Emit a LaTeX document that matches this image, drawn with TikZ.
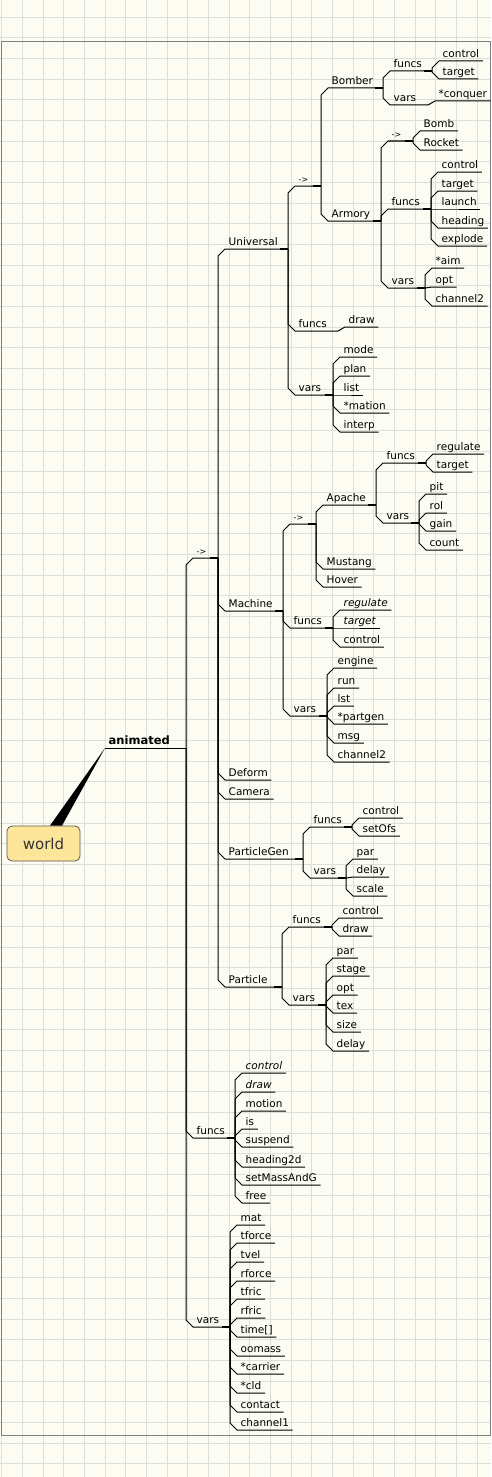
\documentclass[tikz,border=0pt]{standalone}
\usepackage{fontspec}
\setmainfont{DejaVu Sans}
\usetikzlibrary{calc}

\definecolor{paper}{HTML}{FCFCF3}
\definecolor{gridc}{HTML}{D9E2DA}
\definecolor{framec}{HTML}{7F7F7F}
\definecolor{rootfill}{HTML}{FDE59A}
\definecolor{rootdraw}{HTML}{5E5A4E}

\tikzset{
  item/.style={anchor=south west, inner xsep=3.2pt, inner ysep=0.5pt,
    text height=7.5pt, text depth=2.5pt, font=\fontsize{10.5}{12}\selectfont},
  topitem/.style={item, font=\fontsize{11.5}{13}\selectfont\bfseries},
  arritem/.style={item, font=\fontsize{8}{10}\selectfont},
  rootbox/.style={draw=rootdraw, fill=rootfill, line width=0.8pt, rounded corners=5pt,
    minimum width=73pt, minimum height=35pt, text=black!80,
    font=\fontsize{15}{17}\selectfont},
  bev/.style={to path={let \p1=(\tikztostart), \p2=(\tikztotarget) in
    -- (\x1,{\y2+max(-7pt,min(7pt,\y1-\y2))}) -- (\tikztotarget)}},
  stub/.style={line width=1.8pt},
  gridline/.style={gridc, line width=0.8pt}
}

\begin{document}
\begin{tikzpicture}[x=1pt,y=-1pt,line width=1pt]
\useasboundingbox (0,0) rectangle (491,1477);
\fill[paper] (0,0) rectangle (491,1477);
\foreach \i in {0,...,23} \draw[gridline] ({1.7+20.67*\i},0) -- ({1.7+20.67*\i},1477);
\foreach \i in {0,...,72} \draw[gridline] (0,{-3.7+20.67*\i}) -- (491,{-3.7+20.67*\i});
\draw[framec, line width=0.9pt] (1,41) rectangle (490,1435);

% root
\node[rootbox] (world) at (43.5,843.5) {world};
\node[topitem] (anim) at (105,748) {animated};
\coordinate (anim-j) at (186,748);
\fill ([xshift=6.5pt]world.north) -- (anim.south west) -- ([xshift=18.5pt]world.north) -- cycle;
\draw (anim.south west) -- (anim-j);

% animated
\node[arritem] (arr) at (193,558) {->};
\coordinate (arr-j) at (218,558);
\draw[bev] (anim-j) to (arr.south west) -- (arr-j);
\node[item] (afuncs) at (193,1138) {funcs};
\coordinate (afuncs-j) at (235,1138);
\draw[bev] (anim-j) to (afuncs.south west) -- (afuncs-j);
\node[item] (avars) at (193,1327) {vars};
\coordinate (avars-j) at (230,1327);
\draw[bev] (anim-j) to (avars.south west) -- (avars-j);

% ->
\node[item] (uni) at (225,249) {Universal};
\coordinate (uni-j) at (288,249);
\draw[bev] (arr-j) to (uni.south west) -- (uni-j);
\node[item] (mach) at (225,611) {Machine};
\coordinate (mach-j) at (283,611);
\draw[bev] (arr-j) to (mach.south west) -- (mach-j);
\node[item] (deform) at (225,780) {Deform};
\draw[bev] (arr-j) to (deform.south west) -- (deform.south east);
\node[item] (camera) at (225,799) {Camera};
\draw[bev] (arr-j) to (camera.south west) -- (camera.south east);
\node[item] (pgen) at (225,859) {ParticleGen};
\coordinate (pgen-j) at (303,859);
\draw[bev] (arr-j) to (pgen.south west) -- (pgen-j);
\node[item] (part) at (225,987) {Particle};
\coordinate (part-j) at (282,987);
\draw[bev] (arr-j) to (part.south west) -- (part-j);

% Universal
\node[arritem] (uarr) at (295,186) {->};
\coordinate (uarr-j) at (321,186);
\draw[bev] (uni-j) to (uarr.south west) -- (uarr-j);
\node[item] (ufuncs) at (295,331) {funcs};
\coordinate (ufuncs-j) at (338,331);
\draw[bev] (uni-j) to (ufuncs.south west) -- (ufuncs-j);
\node[item] (uvars) at (295,395) {vars};
\coordinate (uvars-j) at (333,395);
\draw[bev] (uni-j) to (uvars.south west) -- (uvars-j);

\node[item] (bomber) at (328,88) {Bomber};
\coordinate (bomber-j) at (383,88);
\draw[bev] (uarr-j) to (bomber.south west) -- (bomber-j);
\node[item] (armory) at (328,221) {Armory};
\coordinate (armory-j) at (381,221);
\draw[bev] (uarr-j) to (armory.south west) -- (armory-j);

\node[item] (bfuncs) at (390,71) {funcs};
\coordinate (bfuncs-j) at (432,71);
\draw[bev] (bomber-j) to (bfuncs.south west) -- (bfuncs-j);
\node[item] (bvars) at (390,105) {vars};
\coordinate (bvars-j) at (428,105);
\draw[bev] (bomber-j) to (bvars.south west) -- (bvars-j);
\node[item] (bf-control) at (439,61) {control};
\draw[bev] (bfuncs-j) to (bf-control.south west) -- (bf-control.south east);
\node[item] (bf-target) at (439,79) {target};
\draw[bev] (bfuncs-j) to (bf-target.south west) -- (bf-target.south east);
\node[item] (bv-conquer) at (435,101) {*conquer};
\draw[bev] (bvars-j) to (bv-conquer.south west) -- (bv-conquer.south east);

\node[arritem] (aarr) at (388,141) {->};
\coordinate (aarr-j) at (413,141);
\draw[bev] (armory-j) to (aarr.south west) -- (aarr-j);
\node[item] (afn) at (388,209) {funcs};
\coordinate (afn-j) at (431,209);
\draw[bev] (armory-j) to (afn.south west) -- (afn-j);
\node[item] (avr) at (388,288) {vars};
\coordinate (avr-j) at (425,288);
\draw[bev] (armory-j) to (avr.south west) -- (avr-j);
\node[item] (bomb) at (420,131) {Bomb};
\draw[bev] (aarr-j) to (bomb.south west) -- (bomb.south east);
\node[item] (rocket) at (420,150) {Rocket};
\draw[bev] (aarr-j) to (rocket.south west) -- (rocket.south east);
\node[item] (afn-control) at (438,172) {control};
\draw[bev] (afn-j) to (afn-control.south west) -- (afn-control.south east);
\node[item] (afn-target) at (438,191) {target};
\draw[bev] (afn-j) to (afn-target.south west) -- (afn-target.south east);
\node[item] (afn-launch) at (438,209) {launch};
\draw[bev] (afn-j) to (afn-launch.south west) -- (afn-launch.south east);
\node[item] (afn-heading) at (438,228) {heading};
\draw[bev] (afn-j) to (afn-heading.south west) -- (afn-heading.south east);
\node[item] (afn-explode) at (438,246) {explode};
\draw[bev] (afn-j) to (afn-explode.south west) -- (afn-explode.south east);
\node[item] (avr-aim) at (432,268) {*aim};
\draw[bev] (avr-j) to (avr-aim.south west) -- (avr-aim.south east);
\node[item] (avr-opt) at (432,287) {opt};
\draw[bev] (avr-j) to (avr-opt.south west) -- (avr-opt.south east);
\node[item] (avr-chan) at (432,306) {channel2};
\draw[bev] (avr-j) to (avr-chan.south west) -- (avr-chan.south east);

\node[item] (uf-draw) at (345,327) {draw};
\draw[bev] (ufuncs-j) to (uf-draw.south west) -- (uf-draw.south east);
\node[item] (uv-mode) at (340,357) {mode};
\draw[bev] (uvars-j) to (uv-mode.south west) -- (uv-mode.south east);
\node[item] (uv-plan) at (340,376) {plan};
\draw[bev] (uvars-j) to (uv-plan.south west) -- (uv-plan.south east);
\node[item] (uv-list) at (340,395) {list};
\draw[bev] (uvars-j) to (uv-list.south west) -- (uv-list.south east);
\node[item] (uv-mation) at (340,413) {*mation};
\draw[bev] (uvars-j) to (uv-mation.south west) -- (uv-mation.south east);
\node[item] (uv-interp) at (340,432) {interp};
\draw[bev] (uvars-j) to (uv-interp.south west) -- (uv-interp.south east);

% Machine
\node[arritem] (marr) at (290,524) {->};
\coordinate (marr-j) at (316,524);
\draw[bev] (mach-j) to (marr.south west) -- (marr-j);
\node[item] (mfuncs) at (290,628) {funcs};
\coordinate (mfuncs-j) at (333,628);
\draw[bev] (mach-j) to (mfuncs.south west) -- (mfuncs-j);
\node[item] (mvars) at (290,716) {vars};
\coordinate (mvars-j) at (327,716);
\draw[bev] (mach-j) to (mvars.south west) -- (mvars-j);

\node[item] (apache) at (323,505) {Apache};
\coordinate (apache-j) at (376,505);
\draw[bev] (marr-j) to (apache.south west) -- (apache-j);
\node[item] (mustang) at (323,569) {Mustang};
\draw[bev] (marr-j) to (mustang.south west) -- (mustang.south east);
\node[item] (hover) at (323,587) {Hover};
\draw[bev] (marr-j) to (hover.south west) -- (hover.south east);

\node[item] (apfuncs) at (383,463) {funcs};
\coordinate (apfuncs-j) at (426,463);
\draw[bev] (apache-j) to (apfuncs.south west) -- (apfuncs-j);
\node[item] (apvars) at (383,523) {vars};
\coordinate (apvars-j) at (419,523);
\draw[bev] (apache-j) to (apvars.south west) -- (apvars-j);
\node[item] (apf-regulate) at (433,454) {regulate};
\draw[bev] (apfuncs-j) to (apf-regulate.south west) -- (apf-regulate.south east);
\node[item] (apf-target) at (433,472) {target};
\draw[bev] (apfuncs-j) to (apf-target.south west) -- (apf-target.south east);
\node[item] (apv-pit) at (426,494) {pit};
\draw[bev] (apvars-j) to (apv-pit.south west) -- (apv-pit.south east);
\node[item] (apv-rol) at (426,513) {rol};
\draw[bev] (apvars-j) to (apv-rol.south west) -- (apv-rol.south east);
\node[item] (apv-gain) at (426,531) {gain};
\draw[bev] (apvars-j) to (apv-gain.south west) -- (apv-gain.south east);
\node[item] (apv-count) at (426,550) {count};
\draw[bev] (apvars-j) to (apv-count.south west) -- (apv-count.south east);

\node[item] (mf-regulate) at (340,610) {\itshape regulate};
\draw[bev] (mfuncs-j) to (mf-regulate.south west) -- (mf-regulate.south east);
\node[item] (mf-target) at (340,628) {\itshape target};
\draw[bev] (mfuncs-j) to (mf-target.south west) -- (mf-target.south east);
\node[item] (mf-control) at (340,647) {control};
\draw[bev] (mfuncs-j) to (mf-control.south west) -- (mf-control.south east);
\node[item] (mv-engine) at (334,668) {engine};
\draw[bev] (mvars-j) to (mv-engine.south west) -- (mv-engine.south east);
\node[item] (mv-run) at (334,688) {run};
\draw[bev] (mvars-j) to (mv-run.south west) -- (mv-run.south east);
\node[item] (mv-lst) at (334,706) {lst};
\draw[bev] (mvars-j) to (mv-lst.south west) -- (mv-lst.south east);
\node[item] (mv-partgen) at (334,724) {*partgen};
\draw[bev] (mvars-j) to (mv-partgen.south west) -- (mv-partgen.south east);
\node[item] (mv-msg) at (334,743) {msg};
\draw[bev] (mvars-j) to (mv-msg.south west) -- (mv-msg.south east);
\node[item] (mv-chan) at (334,762) {channel2};
\draw[bev] (mvars-j) to (mv-chan.south west) -- (mv-chan.south east);

% ParticleGen
\node[item] (pgfuncs) at (310,827) {funcs};
\coordinate (pgfuncs-j) at (352,827);
\draw[bev] (pgen-j) to (pgfuncs.south west) -- (pgfuncs-j);
\node[item] (pgvars) at (310,878) {vars};
\coordinate (pgvars-j) at (346,878);
\draw[bev] (pgen-j) to (pgvars.south west) -- (pgvars-j);
\node[item] (pgf-control) at (359,818) {control};
\draw[bev] (pgfuncs-j) to (pgf-control.south west) -- (pgf-control.south east);
\node[item] (pgf-setofs) at (359,836) {setOfs};
\draw[bev] (pgfuncs-j) to (pgf-setofs.south west) -- (pgf-setofs.south east);
\node[item] (pgv-par) at (353,859) {par};
\draw[bev] (pgvars-j) to (pgv-par.south west) -- (pgv-par.south east);
\node[item] (pgv-delay) at (353,877) {delay};
\draw[bev] (pgvars-j) to (pgv-delay.south west) -- (pgv-delay.south east);
\node[item] (pgv-scale) at (353,896) {scale};
\draw[bev] (pgvars-j) to (pgv-scale.south west) -- (pgv-scale.south east);

% Particle
\node[item] (ptfuncs) at (289,927) {funcs};
\coordinate (ptfuncs-j) at (332,927);
\draw[bev] (part-j) to (ptfuncs.south west) -- (ptfuncs-j);
\node[item] (ptvars) at (289,1005) {vars};
\coordinate (ptvars-j) at (326,1005);
\draw[bev] (part-j) to (ptvars.south west) -- (ptvars-j);
\node[item] (ptf-control) at (339,918) {control};
\draw[bev] (ptfuncs-j) to (ptf-control.south west) -- (ptf-control.south east);
\node[item] (ptf-draw) at (339,936) {draw};
\draw[bev] (ptfuncs-j) to (ptf-draw.south west) -- (ptf-draw.south east);
\node[item] (ptv-par) at (333,958) {par};
\draw[bev] (ptvars-j) to (ptv-par.south west) -- (ptv-par.south east);
\node[item] (ptv-stage) at (333,976) {stage};
\draw[bev] (ptvars-j) to (ptv-stage.south west) -- (ptv-stage.south east);
\node[item] (ptv-opt) at (333,995) {opt};
\draw[bev] (ptvars-j) to (ptv-opt.south west) -- (ptv-opt.south east);
\node[item] (ptv-tex) at (333,1013) {tex};
\draw[bev] (ptvars-j) to (ptv-tex.south west) -- (ptv-tex.south east);
\node[item] (ptv-size) at (333,1032) {size};
\draw[bev] (ptvars-j) to (ptv-size.south west) -- (ptv-size.south east);
\node[item] (ptv-delay) at (333,1051) {delay};
\draw[bev] (ptvars-j) to (ptv-delay.south west) -- (ptv-delay.south east);

% animated funcs
\node[item] (af-control) at (242,1073) {\itshape control};
\draw[bev] (afuncs-j) to (af-control.south west) -- (af-control.south east);
\node[item] (af-draw) at (242,1092) {\itshape draw};
\draw[bev] (afuncs-j) to (af-draw.south west) -- (af-draw.south east);
\node[item] (af-motion) at (242,1111) {motion};
\draw[bev] (afuncs-j) to (af-motion.south west) -- (af-motion.south east);
\node[item] (af-is) at (242,1129) {is};
\draw[bev] (afuncs-j) to (af-is.south west) -- (af-is.south east);
\node[item] (af-suspend) at (242,1147) {suspend};
\draw[bev] (afuncs-j) to (af-suspend.south west) -- (af-suspend.south east);
\node[item] (af-heading) at (242,1167) {heading2d};
\draw[bev] (afuncs-j) to (af-heading.south west) -- (af-heading.south east);
\node[item] (af-setmass) at (242,1185) {setMassAndG};
\draw[bev] (afuncs-j) to (af-setmass.south west) -- (af-setmass.south east);
\node[item] (af-free) at (242,1203) {free};
\draw[bev] (afuncs-j) to (af-free.south west) -- (af-free.south east);

% animated vars
\node[item] (av-mat) at (237,1225) {mat};
\draw[bev] (avars-j) to (av-mat.south west) -- (av-mat.south east);
\node[item] (av-tforce) at (237,1243) {tforce};
\draw[bev] (avars-j) to (av-tforce.south west) -- (av-tforce.south east);
\node[item] (av-tvel) at (237,1262) {tvel};
\draw[bev] (avars-j) to (av-tvel.south west) -- (av-tvel.south east);
\node[item] (av-rforce) at (237,1281) {rforce};
\draw[bev] (avars-j) to (av-rforce.south west) -- (av-rforce.south east);
\node[item] (av-tfric) at (237,1299) {tfric};
\draw[bev] (avars-j) to (av-tfric.south west) -- (av-tfric.south east);
\node[item] (av-rfric) at (237,1318) {rfric};
\draw[bev] (avars-j) to (av-rfric.south west) -- (av-rfric.south east);
\node[item] (av-time) at (237,1337) {time[]};
\draw[bev] (avars-j) to (av-time.south west) -- (av-time.south east);
\node[item] (av-oomass) at (237,1356) {oomass};
\draw[bev] (avars-j) to (av-oomass.south west) -- (av-oomass.south east);
\node[item] (av-carrier) at (237,1374) {*carrier};
\draw[bev] (avars-j) to (av-carrier.south west) -- (av-carrier.south east);
\node[item] (av-cld) at (237,1393) {*cld};
\draw[bev] (avars-j) to (av-cld.south west) -- (av-cld.south east);
\node[item] (av-contact) at (237,1412) {contact};
\draw[bev] (avars-j) to (av-contact.south west) -- (av-contact.south east);
\node[item] (av-chan) at (237,1430) {channel1};
\draw[bev] (avars-j) to (av-chan.south west) -- (av-chan.south east);

% thick ends where a branch meets its children
\foreach \j in {arr-j, afuncs-j, avars-j, uni-j, mach-j, pgen-j, part-j, uarr-j, uvars-j,
  bomber-j, armory-j, bfuncs-j, aarr-j, afn-j, avr-j, marr-j, apache-j, apfuncs-j, apvars-j,
  mfuncs-j, mvars-j, pgfuncs-j, pgvars-j, ptfuncs-j, ptvars-j}
  \draw[stub] ([xshift=-8pt]\j) -- (\j);
\end{tikzpicture}
\end{document}
